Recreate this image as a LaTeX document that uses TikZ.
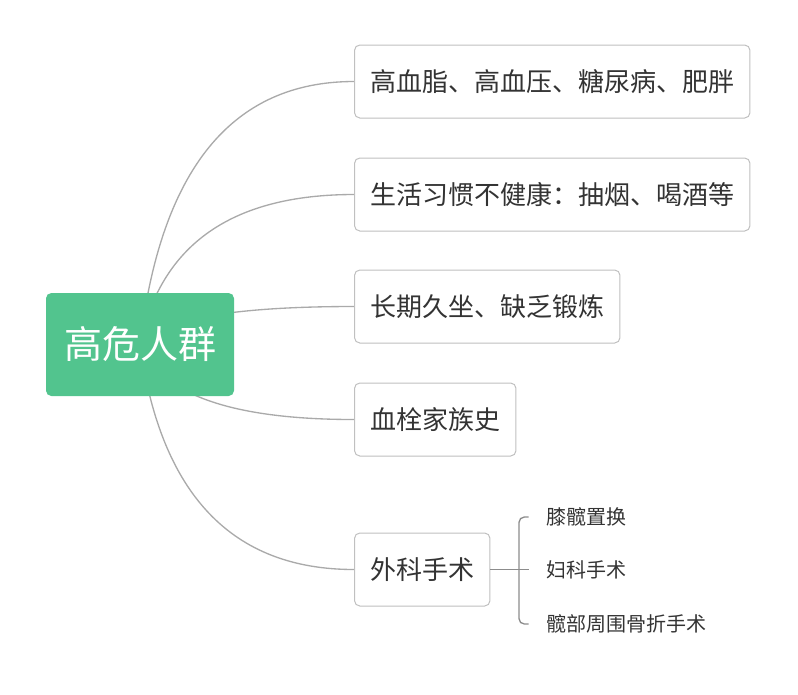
\documentclass[tikz,border=0pt]{standalone}
\usepackage{fontspec}
\setmainfont{Noto Sans CJK SC}
\usetikzlibrary{calc, backgrounds}
\definecolor{RootGreen}{RGB}{82, 196, 142}
\definecolor{BoxLine}{RGB}{192, 192, 192}
\definecolor{LinkGray}{RGB}{170, 170, 170}
\definecolor{BraceGray}{RGB}{140, 140, 140}
\definecolor{TextGray}{RGB}{51, 51, 51}

\begin{document}
\begin{tikzpicture}[x=0.75pt, y=-0.75pt,
  root/.style={fill=RootGreen, rounded corners=4pt, text=white, font=\fontsize{28.5}{30}\selectfont, minimum width=141pt, minimum height=77.25pt},
  topic/.style={draw=BoxLine, line width=0.75pt, rounded corners=4pt, fill=white, text=TextGray, font=\fontsize{19.5}{21}\selectfont, minimum height=54.75pt, inner xsep=11.8pt, anchor=west},
  leaf/.style={text=TextGray, font=\fontsize{15}{16}\selectfont, inner xsep=0pt, anchor=west},
  link/.style={draw=LinkGray, line width=1pt},
  brace/.style={draw=BraceGray, line width=1pt, rounded corners=4pt}]

\useasboundingbox (0,0) rectangle (798,694);

\node[root] (root) at (140,344.5) {高危人群};

\node[topic] (t1) at (354,81.5)  {高血脂、高血压、糖尿病、肥胖};
\node[topic] (t2) at (354,194.5) {生活习惯不健康：抽烟、喝酒等};
\node[topic] (t3) at (354,306.5) {长期久坐、缺乏锻炼};
\node[topic] (t4) at (354,419.5) {血栓家族史};
\node[topic] (t5) at (354,569.5) {外科手术};

\node[leaf] (k1) at (546,517) {膝髋置换};
\node[leaf] (k2) at (546,570) {妇科手术};
\node[leaf] (k3) at (546,624) {髋部周围骨折手术};

% curved links, behind the root
\coordinate (rs) at ($(root.center)+(31,0)$);
\begin{scope}[on background layer]
\foreach \t in {t1,t2,t3,t4,t5} {
  \coordinate (c) at (rs |- \t.west);
  \draw[link] (root.center) .. controls ($(root.center)!2/3!(c)$) and ($(\t.west)!2/3!(c)$) .. (\t.west);
}
\end{scope}

% bracket to the leaves
\coordinate (brk) at (519,569.5);
\draw[brace] (t5.east) -- ([xshift=-13]k2.west |- t5.east);
\draw[brace] ([xshift=-13]k1.west) -| (brk) |- ([xshift=-13]k3.west);

\end{tikzpicture}
\end{document}
